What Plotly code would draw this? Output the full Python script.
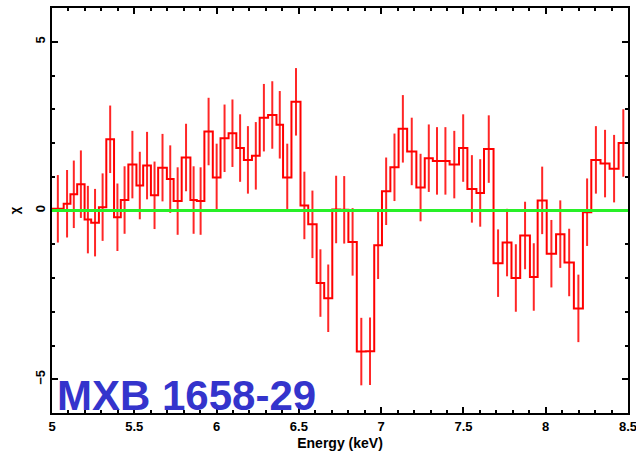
import plotly.graph_objects as go

# Channel bin edges (keV) and residuals in units of sigma
bin_edges = [
    5.000, 5.071, 5.112, 5.153, 5.198, 5.238, 5.285, 5.330, 5.377, 5.418,
    5.464, 5.513, 5.554, 5.601, 5.645, 5.698, 5.739, 5.788, 5.841, 5.880,
    5.926, 5.977, 6.024, 6.073, 6.120, 6.166, 6.215, 6.262, 6.313, 6.364,
    6.404, 6.455, 6.510, 6.557, 6.608, 6.654, 6.703, 6.750, 6.801, 6.852,
    6.907, 6.958, 7.005, 7.056, 7.106, 7.158, 7.214, 7.265, 7.314, 7.365,
    7.416, 7.473, 7.524, 7.579, 7.625, 7.683, 7.738, 7.792, 7.845, 7.904,
    7.951, 8.006, 8.063, 8.114, 8.171, 8.226, 8.277, 8.333, 8.388, 8.443,
    8.500,
]
residuals = [
    0.05, 0.20, 0.48, 0.78, -0.27, -0.36, 0.10, 2.11, -0.20, 0.31,
    1.36, 0.74, 1.33, 0.45, 1.27, 0.93, 0.28, 1.57, 0.31, 0.28,
    2.34, 0.98, 2.14, 2.29, 1.85, 1.50, 1.62, 2.75, 2.83, 2.54,
    0.98, 3.22, 0.15, -0.41, -2.15, -2.60, 0.03, 0.02, -0.93, -4.18,
    -4.17, -1.03, 0.57, 1.28, 2.42, 1.75, 0.68, 1.55, 1.47, 1.47,
    1.36, 1.85, 0.64, 0.52, 1.82, -1.56, -0.95, -2.00, -0.74, -1.97,
    0.30, -1.28, -0.70, -1.54, -2.90, -0.05, 1.50, 1.39, 1.24, 2.00,
]
residual_err = [1.0] * len(residuals)

x_ticks = [5, 5.5, 6, 6.5, 7, 7.5, 8, 8.5]
x_tick_text = ["5", "5.5", "6", "6.5", "7", "7.5", "8", "8.5"]
y_ticks = [-5, 0, 5]
y_tick_text = ["\u22125", "0", "5"]

source_name = "MXB 1658-29"

bin_centres = [(lo + hi) / 2 for lo, hi in zip(bin_edges[:-1], bin_edges[1:])]

fig = go.Figure()

# Stepped residual histogram
fig.add_trace(go.Scatter(
    x=bin_edges,
    y=residuals + [residuals[-1]],
    mode="lines",
    line=dict(shape="hv", color="rgb(255,0,0)", width=2),
    hoverinfo="skip",
    showlegend=False,
))

# One-sigma error bars at the bin centres
fig.add_trace(go.Scatter(
    x=bin_centres,
    y=residuals,
    mode="markers",
    marker=dict(size=0.1, color="rgba(255,0,0,0)"),
    error_y=dict(type="data", array=residual_err, symmetric=True,
                 color="rgba(255,0,0,0.85)", thickness=2, width=0),
    showlegend=False,
))

# Zero-residual model line
fig.add_hline(y=0, line=dict(color="rgb(40,240,40)", width=3), layer="above")

axis_font = dict(family="Liberation Sans, Arial, sans-serif", size=13,
                 color="black", weight="bold")
title_font = dict(family="Liberation Sans, Arial, sans-serif", size=14,
                  color="black", weight="bold")

fig.update_xaxes(
    range=[5, 8.5],
    tickvals=x_ticks, ticktext=x_tick_text, ticklabeloverflow="allow",
    ticks="inside", ticklen=6, tickwidth=1.5, tickcolor="black",
    minor=dict(dtick=0.1, tick0=5, ticks="inside", ticklen=3,
               tickwidth=1.5, tickcolor="black"),
    showline=True, linecolor="black", linewidth=2, mirror="allticks",
    showgrid=False, zeroline=False,
    tickfont=axis_font,
    title=dict(text="Energy (keV)", font=title_font, standoff=6),
)
fig.update_yaxes(
    range=[-6, 6],
    tickvals=y_ticks, ticktext=y_tick_text, tickangle=-90,
    ticklabeloverflow="allow",
    ticks="inside", ticklen=6, tickwidth=1.5, tickcolor="black",
    minor=dict(dtick=1, tick0=0, ticks="inside", ticklen=3,
               tickwidth=1.5, tickcolor="black"),
    showline=True, linecolor="black", linewidth=2, mirror="allticks",
    showgrid=False, zeroline=False,
    tickfont=axis_font,
    title=dict(text="\u03c7", font=axis_font, standoff=10),
)

fig.add_annotation(
    text=source_name,
    xref="paper", yref="paper", x=0.005, y=0.0,
    xanchor="left", yanchor="bottom", yshift=-8,
    showarrow=False,
    font=dict(family="Liberation Sans, Arial, sans-serif", size=42,
              color="rgb(52,52,204)", weight="bold"),
)

fig.update_layout(
    width=636, height=451,
    margin=dict(l=52, r=8, t=8, b=38, autoexpand=False),
    paper_bgcolor="white", plot_bgcolor="white",
    showlegend=False,
)

fig.write_html("out.html")
